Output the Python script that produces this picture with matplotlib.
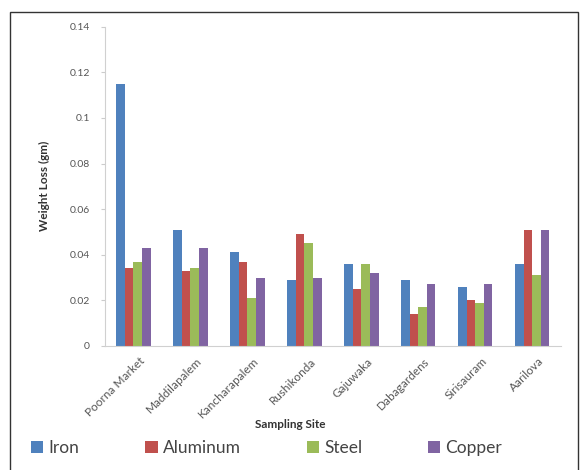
import numpy as np
import matplotlib
matplotlib.use('Agg')
import matplotlib.pyplot as plt
from matplotlib.patches import Rectangle

plt.rcParams['font.family'] = ['Lato', 'DejaVu Sans']

sites = ['Poorna Market', 'Maddilapalem', 'Kancharapalem', 'Rushikonda',
         'Gajuwaka', 'Dabagardens', 'Sirisauram', 'Aarilova']
iron = [0.115, 0.051, 0.041, 0.029, 0.036, 0.029, 0.026, 0.036]
aluminum = [0.034, 0.033, 0.037, 0.049, 0.025, 0.014, 0.020, 0.051]
steel = [0.037, 0.034, 0.021, 0.045, 0.036, 0.017, 0.019, 0.031]
copper = [0.043, 0.043, 0.030, 0.030, 0.032, 0.027, 0.027, 0.051]

series = [('Iron', iron, '#4F81BD'), ('Aluminum', aluminum, '#C0504D'),
          ('Steel', steel, '#9BBB59'), ('Copper', copper, '#8064A2')]

fig = plt.figure(figsize=(5.8, 4.7), dpi=100)
ax = fig.add_axes([0.181, 0.264, 0.786, 0.679])

x = np.arange(len(sites))
w = 0.15
for i, (name, vals, col) in enumerate(series):
    ax.bar(x + (i - 1.5) * w, vals, w, color=col, label=name)

ax.set_xlim(-0.5, len(sites) - 0.5)
ax.set_ylim(0, 0.14)
ax.set_yticks(np.arange(0, 0.141, 0.02))
ax.set_yticklabels(['0', '0.02', '0.04', '0.06', '0.08', '0.1', '0.12', '0.14'])
ax.set_xticks(x + 0.1)
ax.set_xticklabels(sites, rotation=45, ha='right', rotation_mode='anchor')
ax.tick_params(axis='y', labelsize=7.5, colors='#555555', length=3, color='#cccccc', pad=8)
ax.tick_params(axis='x', labelsize=8.5, colors='#555555', length=0, pad=7)
for s in ['top', 'right']:
    ax.spines[s].set_visible(False)
ax.spines['left'].set_color('#d0d0d0')
ax.spines['bottom'].set_color('#d0d0d0')

ax.set_ylabel('Weight Loss (gm)', fontsize=8.5, fontweight='bold', color='#333333', labelpad=14)
fig.text(0.5, 1 - 424 / 470, 'Sampling Site', fontsize=8.5, fontweight='bold',
         color='#333333', ha='center', va='center')

fig.legend(loc='center', bbox_to_anchor=(0.46, 1 - 448 / 470), ncol=4, frameon=False,
           fontsize=12.5, handlelength=0.7, handleheight=0.7, handletextpad=0.3,
           columnspacing=3.8, labelcolor='#444444')

fig.patches.append(Rectangle((10 / 580, -0.01), 568 / 580, 1 - 12 / 470 + 0.01,
                             transform=fig.transFigure, fill=False,
                             edgecolor='#333333', linewidth=1))

fig.savefig('out.png', dpi=100)
